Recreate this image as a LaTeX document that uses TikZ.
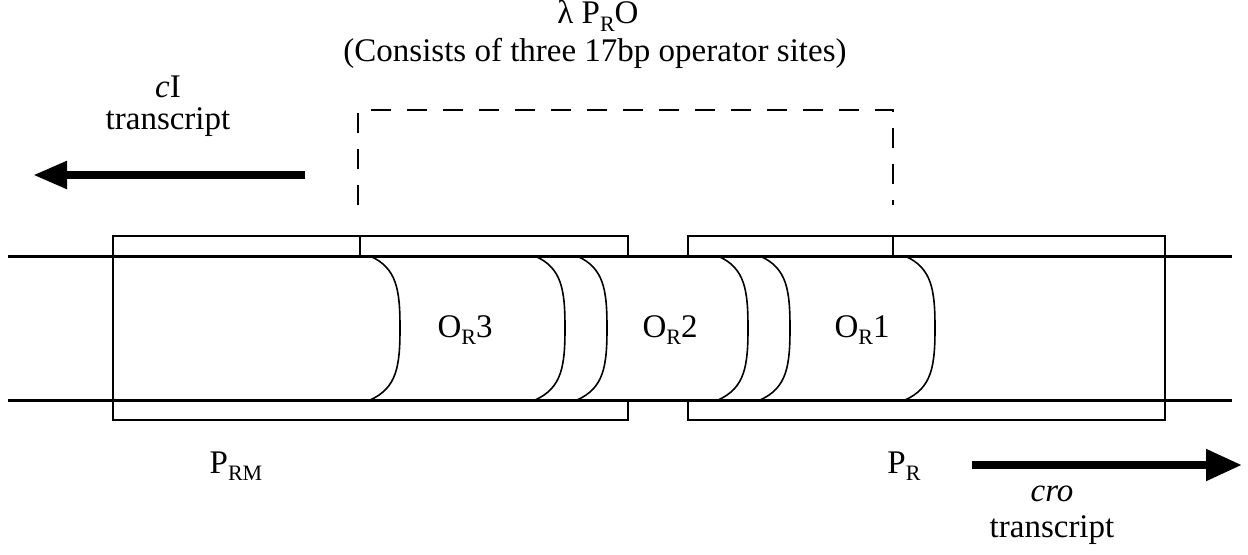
\documentclass[tikz,border=0pt]{standalone}
\usepackage{fontspec}
\setmainfont{Liberation Serif}
\usetikzlibrary{arrows.meta}
\newcommand{\sbs}[1]{\raisebox{-0.5ex}{\fontsize{11}{12}\selectfont #1}}
\tikzset{
  dna/.style={line width=1.5pt},
  boxline/.style={line width=1.2pt},
  arcline/.style={line width=0.8pt},
  bracket/.style={line width=0.9pt, dash pattern=on 10pt off 8pt},
  tick/.style={line width=0.9pt},
  bigarrow/.style={line width=4pt, -{Triangle[length=17pt,width=13pt]}},
  lbl/.style={inner sep=0pt, font=\fontsize{16.5}{19}\selectfont},
}
\begin{document}
\begin{tikzpicture}[x=0.5pt,y=-0.5pt]
\useasboundingbox (0,0) rectangle (1248,554);
% boxes (inner edges only in the strips outside the DNA)
\draw[boxline] (628,256) -- (628,236) -- (113,236) -- (113,420) -- (628,420) -- (628,400);
\draw[boxline] (688,256) -- (688,236) -- (1165,236) -- (1165,420) -- (688,420) -- (688,400);
% DNA lines
\draw[dna] (8,256) -- (1232,256);
\draw[dna] (8,400) -- (1232,400);
% operator arcs
\foreach \x in {370,535,577,718,760,905}{
  \draw[arcline] (\x,256) .. controls (\x+27,268) and (\x+30,290) .. (\x+30,328)
                 .. controls (\x+30,366) and (\x+27,388) .. (\x,400);
}
% bracket
\coordinate (bl) at (358,205);
\coordinate (br) at (893,205);
\draw[bracket] (bl) -- (358,110) -- (893,110) -- (br);
\draw[tick] (360,236) -- (360,256);
\draw[tick] (893,236) -- (893,256);
% labels
\node[lbl] (or3) at (465,330) {O\sbs{R}3};
\node[lbl] (or2) at (670,330) {O\sbs{R}2};
\node[lbl] (or1) at (862,330) {O\sbs{R}1};
\node[lbl] (title) at (598,16) {λ P\sbs{R}O};
\node[lbl] (sub) at (595,53) {(Consists of three 17bp operator sites)};
\node[lbl] (ci) at (168,87) {\textit{c}I};
\node[lbl] (citr) at (168,122) {transcript};
\node[lbl] (prm) at (236,466) {P\sbs{RM}};
\node[lbl] (pr) at (904,466) {P\sbs{R}};
\node[lbl] (cro) at (1052,494) {\textit{cro}};
\node[lbl] (crotr) at (1052,530) {transcript};
% transcript arrows
\coordinate (cis) at (305,175);
\coordinate (cie) at (33,175);
\draw[bigarrow] (cis) -- (cie);
\coordinate (cros) at (972,465);
\coordinate (croe) at (1242,465);
\draw[line width=4pt, -{Triangle[length=18pt,width=15pt]}] (cros) -- (croe);
\end{tikzpicture}
\end{document}
